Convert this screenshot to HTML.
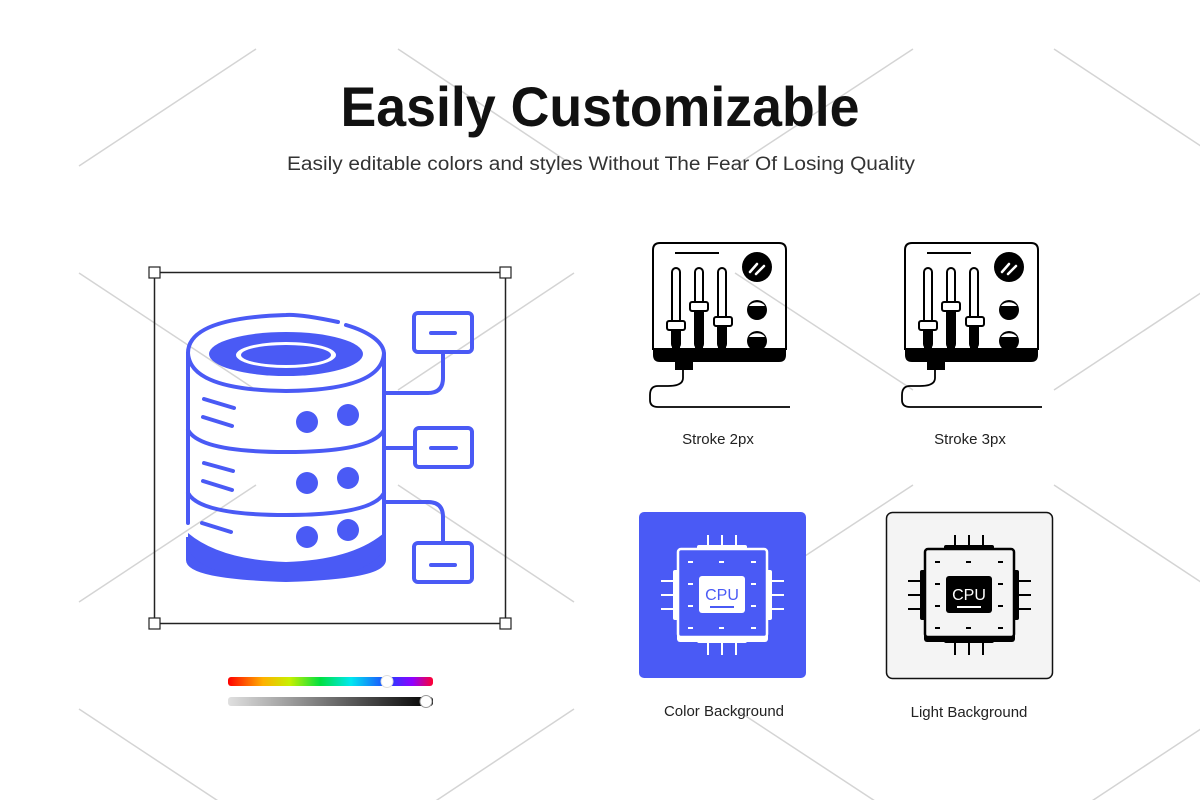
<!DOCTYPE html>
<html><head><meta charset="utf-8"><style>
html,body{margin:0;padding:0;background:#fff;}
svg{display:block;}
text{font-family:"Liberation Sans",sans-serif;}
</style></head><body>
<svg width="1200" height="800" viewBox="0 0 1200 800" xmlns="http://www.w3.org/2000/svg">
<rect width="1200" height="800" fill="#fff"/>
<!-- watermark lines -->
<g stroke="#d4d4d4" stroke-width="1.5" fill="none">
<line x1="79" y1="166" x2="256" y2="49"/><line x1="398" y1="49" x2="574" y2="166"/><line x1="735" y1="166" x2="913" y2="49"/><line x1="1054" y1="49" x2="1231" y2="166"/>
<line x1="79" y1="273" x2="256" y2="390"/><line x1="398" y1="390" x2="574" y2="273"/><line x1="735" y1="273" x2="913" y2="390"/><line x1="1054" y1="390" x2="1231" y2="273"/>
<line x1="79" y1="602" x2="256" y2="485"/><line x1="398" y1="485" x2="574" y2="602"/><line x1="735" y1="602" x2="913" y2="485"/><line x1="1054" y1="485" x2="1231" y2="602"/>
<line x1="79" y1="709" x2="256" y2="826"/><line x1="398" y1="826" x2="574" y2="709"/><line x1="735" y1="709" x2="913" y2="826"/><line x1="1054" y1="826" x2="1231" y2="709"/>
</g>
<text x="600" y="126" text-anchor="middle" font-size="56" font-weight="bold" fill="#111" textLength="519" lengthAdjust="spacingAndGlyphs">Easily Customizable</text>
<text x="601" y="170" text-anchor="middle" font-size="19" fill="#333" textLength="628" lengthAdjust="spacingAndGlyphs">Easily editable colors and styles Without The Fear Of Losing Quality</text>

<!-- selection box -->
<rect x="154.5" y="272.5" width="351" height="351" fill="none" stroke="#222" stroke-width="1.5"/>
<g fill="#fff" stroke="#222" stroke-width="1.2">
<rect x="149" y="267" width="11" height="11"/><rect x="500" y="267" width="11" height="11"/>
<rect x="149" y="618" width="11" height="11"/><rect x="500" y="618" width="11" height="11"/>
</g>

<!-- database -->
<g stroke="#4a5af5" fill="none" stroke-width="4" stroke-linecap="round">
<path d="M188 537 Q188 577 286 577 Q384 577 384 537 L384 560 Q384 577 286 580 Q188 577 188 560 Z" fill="#4a5af5"/>
<path d="M188 533 Q220 560 286 562 Q352 560 384 533 L384 548 Q370 578 286 580 Q200 578 188 548 Z" fill="#4a5af5" stroke="none"/>
<path d="M346 325 A98 37 0 0 1 384 353"/>
<path d="M338 322 Q300 314 286 315 Q188 318 188 353 L188 523"/>
<path d="M188 353 Q190 390 286 391 Q382 390 384 353 L384 540"/>
<path d="M188 430 Q200 452 286 452 Q372 452 384 430"/>
<path d="M188 493 Q200 515 286 515 Q372 515 384 493"/>
<path d="M204 399 L234 408"/><path d="M203 417 L232 426"/>
<path d="M204 463 L233 471"/><path d="M203 481 L232 490"/>
<path d="M202 523 L231 532"/>
<path d="M384 393 L428 393 Q443 393 443 378 L443 352"/>
<path d="M384 448 L414 448"/>
<path d="M384 502 L428 502 Q443 502 443 517 L443 543"/>
<rect x="414" y="313" width="58" height="39" rx="4"/>
<rect x="415" y="428" width="57" height="39" rx="4"/>
<rect x="414" y="543" width="58" height="39" rx="4"/>
<path d="M431 333 L455 333"/><path d="M431 448 L456 448"/><path d="M431 565 L455 565"/>
</g>
<ellipse cx="286" cy="354" rx="77" ry="22" fill="#4a5af5"/>
<ellipse cx="286" cy="355" rx="50" ry="13" fill="#fff"/>
<ellipse cx="286" cy="355" rx="45" ry="10" fill="#4a5af5"/>
<g fill="#4a5af5">
<circle cx="307" cy="422" r="11"/><circle cx="348" cy="415" r="11"/>
<circle cx="307" cy="483" r="11"/><circle cx="348" cy="478" r="11"/>
<circle cx="307" cy="537" r="11"/><circle cx="348" cy="530" r="11"/>
</g>

<!-- sliders -->
<defs>
<linearGradient id="rb" x1="0" x2="1">
<stop offset="0" stop-color="#ff0000"/><stop offset="0.17" stop-color="#ffb000"/><stop offset="0.3" stop-color="#c8f000"/><stop offset="0.45" stop-color="#00e040"/><stop offset="0.6" stop-color="#00e8f0"/><stop offset="0.78" stop-color="#2040ff"/><stop offset="0.9" stop-color="#9000ff"/><stop offset="1" stop-color="#ff0030"/>
</linearGradient>
<linearGradient id="gr" x1="0" x2="1"><stop offset="0" stop-color="#e0e0e0"/><stop offset="1" stop-color="#000"/></linearGradient>
</defs>
<rect x="228" y="677" width="205" height="9" rx="3" fill="url(#rb)"/>
<circle cx="387" cy="681.5" r="6" fill="#fff" stroke="#ddd"/>
<rect x="228" y="697" width="205" height="9" rx="3" fill="url(#gr)"/>
<circle cx="426" cy="701.5" r="6" fill="#fff" stroke="#999"/>

<!-- mixer icons -->
<g id="mx" stroke="#000" fill="none">
<path d="M653 350 L653 250 Q653 243 660 243 L779 243 Q786 243 786 250 L786 350" stroke-width="2"/>
<path d="M653 348 L786 348 L786 355 Q786 362 779 362 L660 362 Q653 362 653 355 Z" fill="#000" stroke="none"/>
<rect x="675" y="360" width="18" height="10" fill="#000" stroke="none"/>
<path d="M683 370 L683 378 Q683 386 668 386 L658 386 Q650 386 650 395 L650 400 Q650 407 658 407 L790 407" stroke-width="1.8"/>
<line x1="675" y1="253" x2="719" y2="253" stroke-width="2"/>
<g stroke-width="2">
<rect x="672" y="268" width="8" height="80" rx="4" fill="#fff"/>
<rect x="695" y="268" width="8" height="80" rx="4" fill="#fff"/>
<rect x="718" y="268" width="8" height="80" rx="4" fill="#fff"/>
</g>
<g stroke="none" fill="#000">
<rect x="672" y="326" width="8" height="26" rx="3"/>
<rect x="695" y="307" width="8" height="45" rx="3"/>
<rect x="718" y="320" width="8" height="32" rx="3"/>
</g>
<g stroke-width="2" fill="#fff">
<rect x="667" y="321" width="18" height="9" rx="2"/>
<rect x="690" y="302" width="18" height="9" rx="2"/>
<rect x="714" y="317" width="18" height="9" rx="2"/>
</g>
<circle cx="757" cy="267" r="15" fill="#000" stroke="none"/>
<path d="M750 272 L757 264 M756 274 L764 266" stroke="#fff" stroke-width="2.5" stroke-linecap="round"/>
<circle cx="757" cy="310" r="10" fill="#000" stroke="none"/>
<path d="M749 306 A9 7 0 0 1 765 306" fill="#fff" stroke="none"/>
<circle cx="757" cy="341" r="10" fill="#000" stroke="none"/>
<path d="M749 337 A9 7 0 0 1 765 337" fill="#fff" stroke="none"/>
</g>
<use href="#mx" x="252" y="0"/>
<text x="718" y="444" text-anchor="middle" font-size="15" fill="#222">Stroke 2px</text>
<text x="970" y="444" text-anchor="middle" font-size="15" fill="#222">Stroke 3px</text>

<!-- CPU color -->
<rect x="639" y="512" width="167" height="166" rx="5" fill="#4a5af5"/>
<g id="cpu" stroke-linecap="butt">
<g stroke="#fff" stroke-width="2">
<path d="M708 535V548M722 535V548M736 535V548M708 640V655M722 640V655M736 640V655"/>
<path d="M661 581H677M661 595H677M661 609H677M768 581H784M768 595H784M768 609H784"/>
</g>
<rect x="673" y="570" width="6" height="50" rx="2" fill="#fff"/>
<rect x="766" y="570" width="6" height="50" rx="2" fill="#fff"/>
<rect x="697" y="545" width="50" height="5" rx="2" fill="#fff"/>
<rect x="677" y="633" width="91" height="9" rx="3" fill="#fff"/>
<rect x="697" y="638" width="50" height="5" rx="2" fill="#fff"/>
<rect x="678" y="549" width="89" height="88" rx="3" fill="#4a5af5" stroke="#fff" stroke-width="2.5"/>
<g stroke="#fff" stroke-width="2">
<path d="M688 562h5M719 562h5M751 562h5M688 584h5M751 584h5M688 606h5M751 606h5M688 628h5M719 628h5M751 628h5"/>
</g>
<rect x="699" y="576" width="46" height="37" rx="3" fill="#fff"/>
<text x="722" y="600" text-anchor="middle" font-size="16" fill="#4a5af5">CPU</text>
<line x1="710" y1="607" x2="734" y2="607" stroke="#4a5af5" stroke-width="2"/>
</g>

<!-- CPU light -->
<rect x="886.5" y="512.5" width="166" height="166" rx="6" fill="#f4f4f4" stroke="#111" stroke-width="1.5"/>
<g transform="translate(247,0)">
<g stroke="#000" stroke-width="2">
<path d="M708 535V548M722 535V548M736 535V548M708 640V655M722 640V655M736 640V655"/>
<path d="M661 581H677M661 595H677M661 609H677M768 581H784M768 595H784M768 609H784"/>
</g>
<rect x="673" y="570" width="6" height="50" rx="2" fill="#000"/>
<rect x="766" y="570" width="6" height="50" rx="2" fill="#000"/>
<rect x="697" y="545" width="50" height="5" rx="2" fill="#000"/>
<rect x="677" y="633" width="91" height="9" rx="3" fill="#000"/>
<rect x="697" y="638" width="50" height="5" rx="2" fill="#000"/>
<rect x="678" y="549" width="89" height="88" rx="3" fill="#f4f4f4" stroke="#000" stroke-width="2.5"/>
<g stroke="#000" stroke-width="2">
<path d="M688 562h5M719 562h5M751 562h5M688 584h5M751 584h5M688 606h5M751 606h5M688 628h5M719 628h5M751 628h5"/>
</g>
<rect x="699" y="576" width="46" height="37" rx="3" fill="#000"/>
<text x="722" y="600" text-anchor="middle" font-size="16" fill="#fff">CPU</text>
<line x1="710" y1="607" x2="734" y2="607" stroke="#fff" stroke-width="2"/>
</g>
<text x="724" y="716" text-anchor="middle" font-size="15" fill="#222">Color Background</text>
<text x="969" y="717" text-anchor="middle" font-size="15" fill="#222">Light Background</text>
</svg>
</body></html>
